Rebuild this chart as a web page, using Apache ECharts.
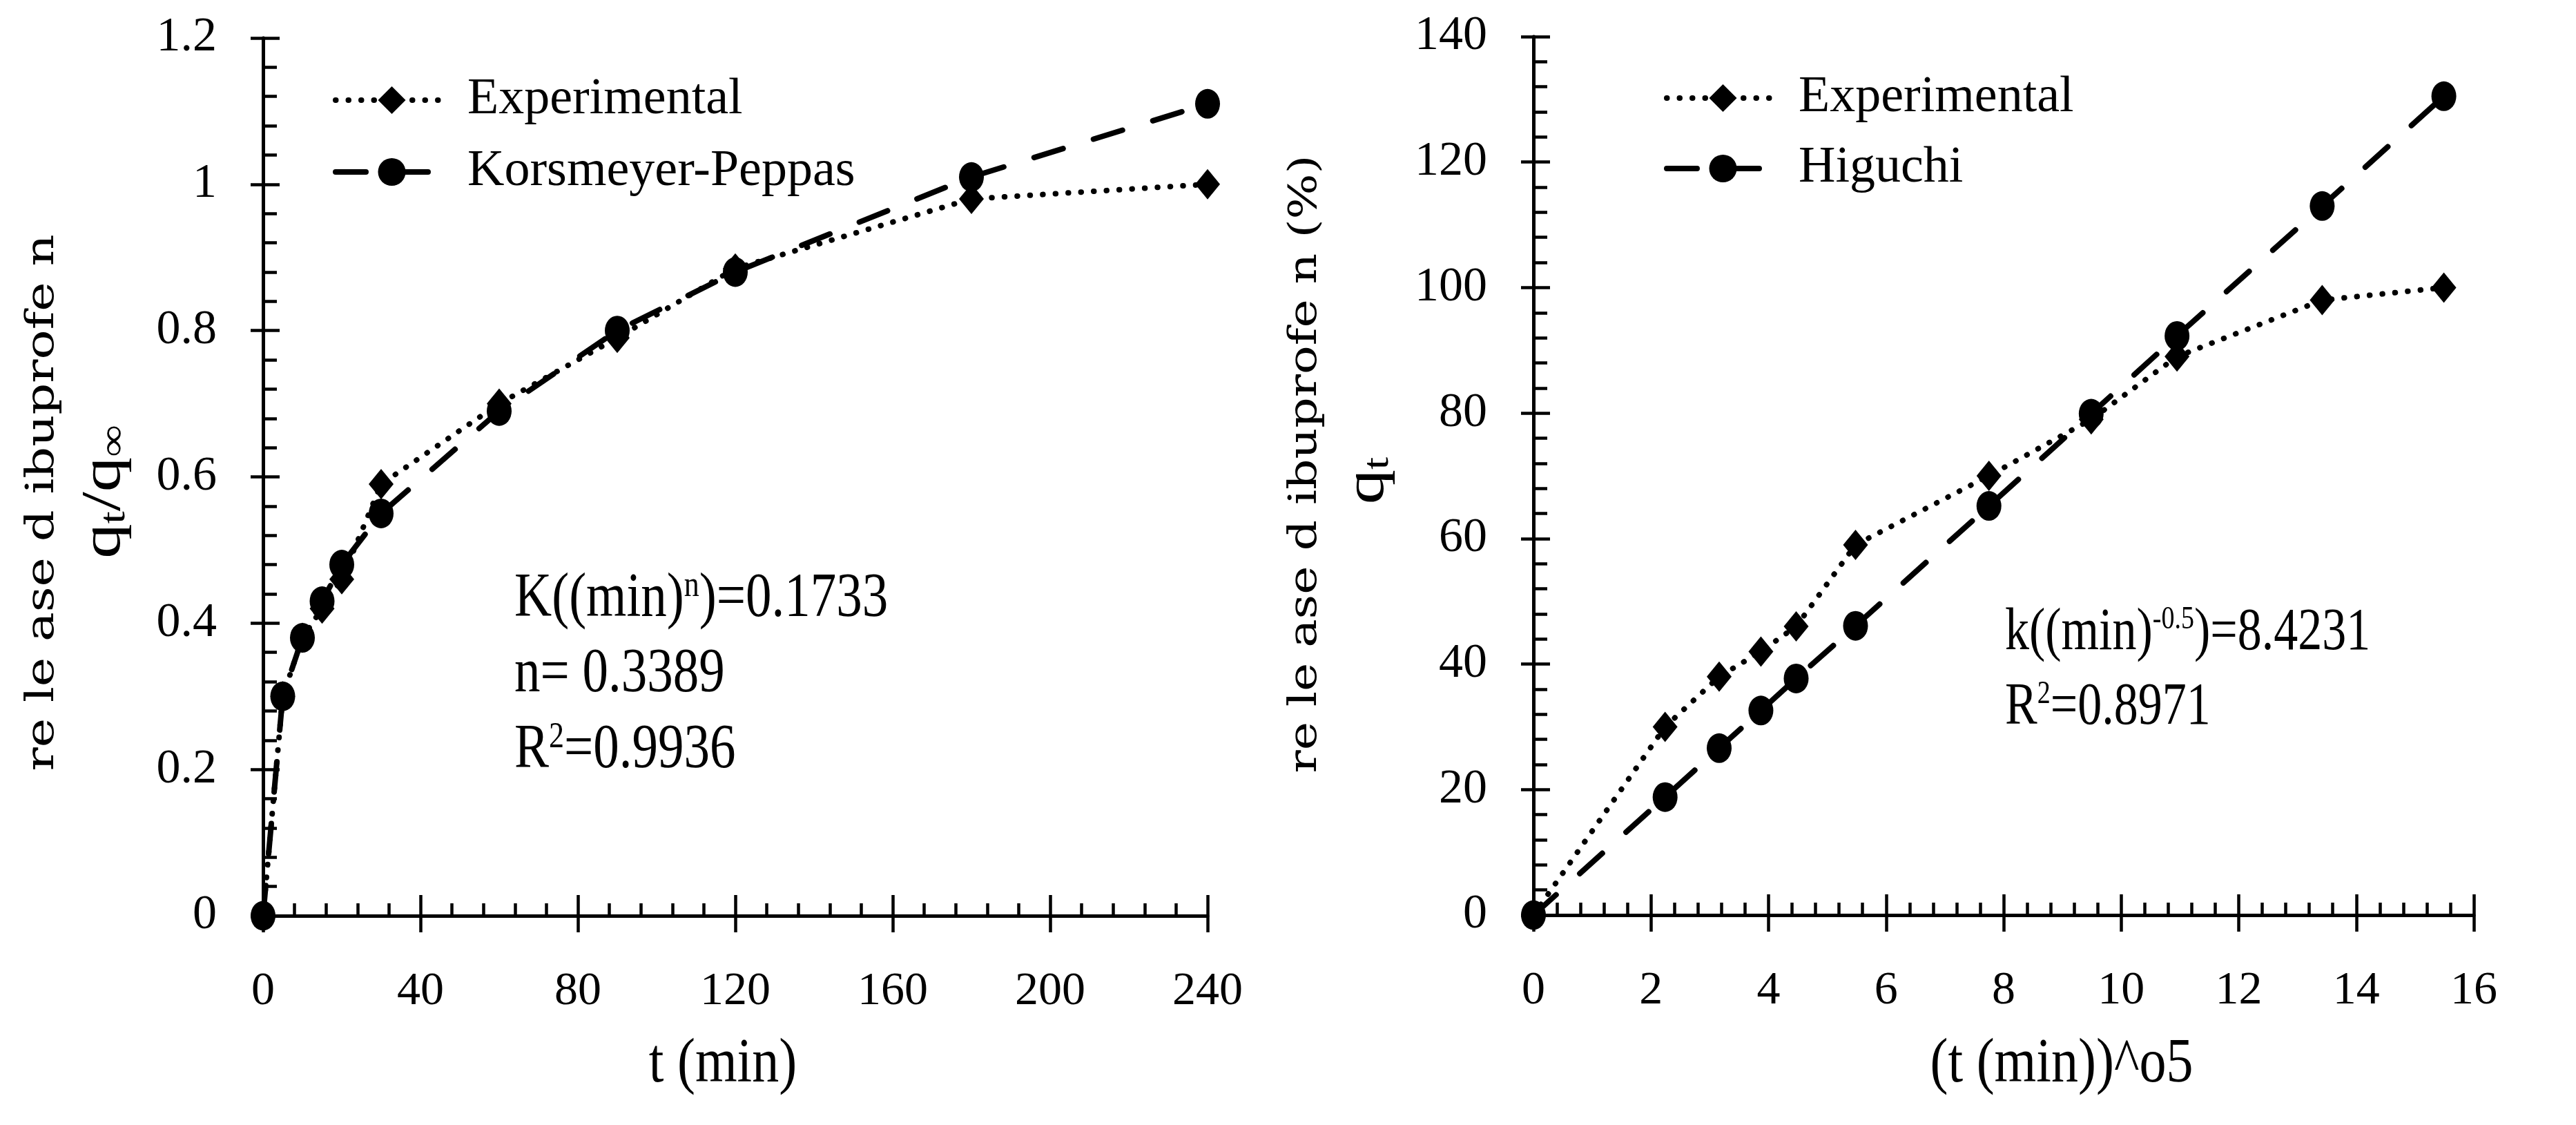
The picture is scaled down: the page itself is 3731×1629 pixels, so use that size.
<!DOCTYPE html>
<html><head><meta charset="utf-8">
<script src="https://cdn.jsdelivr.net/npm/echarts@6/dist/echarts.min.js"></script>
<style>html,body{margin:0;padding:0;background:#fff}#c{width:3731px;height:1629px}</style>
</head><body><div id="c"></div>
<script>
// ---- data ----
const timeMin = [0, 5, 10, 15, 20, 30, 60, 90, 120, 180, 240];
const expFraction = [0, 0.30, 0.38, 0.42, 0.46, 0.59, 0.70, 0.79, 0.885, 0.98, 1.0];
const kpFraction = [0, 0.30, 0.38, 0.43, 0.48, 0.55, 0.69, 0.80, 0.88, 1.01, 1.11];
const sqrtTime = [0, 2.24, 3.16, 3.87, 4.47, 5.48, 7.75, 9.49, 10.95, 13.42, 15.49];
const expPercent = [0, 30, 38, 42, 46, 59, 70, 79, 89, 98, 100];
const higuchiPercent = [0, 18.8, 26.6, 32.6, 37.7, 46.1, 65.2, 79.9, 92.3, 113, 130.5];
const leftLegend = ['Experimental', 'Korsmeyer-Peppas'];
const rightLegend = ['Experimental', 'Higuchi'];

const SERIF = '"Liberation Serif", "Times New Roman", serif';
const WIDE = '"DejaVu Serif", serif';
const BLACK = '#000';

function pairs(xs, ys) { return xs.map((x, i) => [x, ys[i]]); }

function mainAxis(gridIndex, min, max, interval, pos, tickLen, margin, fontSize) {
  return {
    type: 'value', gridIndex, min, max, interval, position: pos, offset: 0,
    axisLine: { show: true, onZero: false, lineStyle: { color: BLACK, width: 5 } },
    axisTick: { show: true, inside: false, length: tickLen, lineStyle: { color: BLACK, width: 4.5 } },
    minorTick: { show: false },
    axisLabel: { show: true, margin, color: BLACK, fontFamily: SERIF, fontSize },
    splitLine: { show: false }, minorSplitLine: { show: false }
  };
}
function innerAxis(gridIndex, min, max, interval, pos, tickLen, minorLen, split) {
  return {
    type: 'value', gridIndex, min, max, interval, position: pos, offset: 0,
    axisLine: { show: false, onZero: false },
    axisTick: { show: true, inside: true, length: tickLen, lineStyle: { color: BLACK, width: 4.5 } },
    minorTick: { show: true, splitNumber: split, length: minorLen, lineStyle: { color: BLACK, width: 4.5 } },
    axisLabel: { show: false }, splitLine: { show: false }, minorSplitLine: { show: false }
  };
}

const expLine = { color: BLACK, width: 8, type: [0.5, 18], cap: 'round' };
const modelLine = { color: BLACK, width: 8, type: [44, 46], cap: 'round' };

// stretched text: a group carries position, rotation and scale; the text sits at its origin
function stext(x, y, text, rich, align, t) {
  t = t || {};
  return {
    type: 'group', x, y, rotation: t.rotation || 0,
    scaleX: t.sx || 1, scaleY: t.sy || 1, silent: true,
    children: [{
      type: 'text', x: 0, y: 0, silent: true,
      style: { text, rich, fill: BLACK, x: 0, y: 0, align, verticalAlign: 'middle', textAlign: align, textVerticalAlign: 'middle' }
    }]
  };
}
function annRich(size, sup) {
  return {
    m: { fontFamily: SERIF, fontSize: size, lineHeight: size, color: BLACK },
    p: { fontFamily: SERIF, fontSize: sup, lineHeight: sup, verticalAlign: 'top', color: BLACK }
  };
}
const annLeft = annRich(75, 44);
const annRight = annRich(70, 38);
const nameRich1 = { a: { fontFamily: WIDE, fontSize: 56, lineHeight: 60, color: BLACK } };
const nameRich2 = {
  b: { fontFamily: SERIF, fontSize: 80, lineHeight: 80, color: BLACK },
  s: { fontFamily: SERIF, fontSize: 52, lineHeight: 48, verticalAlign: 'bottom', color: BLACK }
};
const xNameRich = { a: { fontFamily: SERIF, fontSize: 78, lineHeight: 78, color: BLACK } };

const legendText = { fontFamily: SERIF, fontSize: 74, color: BLACK, lineHeight: 50, padding: [0, 0, 0, 23] };
function legendItems(names) {
  return names.map((n, i) => ({ name: n, lineStyle: i === 0 ? expLine : modelLine }));
}

const option = {
  animation: false,
  backgroundColor: '#fff',
  grid: [
    { left: 381, top: 55, width: 1368, height: 1271 },
    { left: 2221, top: 53, width: 1362, height: 1272 }
  ],
  xAxis: [
    mainAxis(0, 0, 240, 40, 'bottom', 24, 76, 68),
    innerAxis(0, 0, 240, 40, 'bottom', 30, 18, 5),
    mainAxis(1, 0, 16, 2, 'bottom', 24, 76, 68),
    innerAxis(1, 0, 16, 2, 'bottom', 30, 18, 5)
  ],
  yAxis: [
    mainAxis(0, 0, 1.2, 0.2, 'left', 18, 67, 70),
    innerAxis(0, 0, 1.2, 0.2, 'left', 24, 20, 5),
    mainAxis(1, 0, 140, 20, 'left', 18, 67, 70),
    innerAxis(1, 0, 140, 20, 'left', 24, 20, 5)
  ],
  legend: [
    {
      data: legendItems(leftLegend), orient: 'vertical', left: 477, top: 103, itemWidth: 163, itemHeight: 50, itemGap: 30,
      selectedMode: false, textStyle: legendText
    },
    {
      data: legendItems(rightLegend), orient: 'vertical', left: 2405, top: 100, itemWidth: 163, itemHeight: 50, itemGap: 28,
      selectedMode: false, textStyle: legendText
    }
  ],
  series: [
    { type: 'line', name: 'Experimental', xAxisIndex: 0, yAxisIndex: 0, data: pairs(timeMin, expFraction),
      symbol: 'diamond', symbolSize: [36, 44], itemStyle: { color: BLACK }, lineStyle: expLine, clip: false, z: 3 },
    { type: 'line', name: 'Korsmeyer-Peppas', xAxisIndex: 0, yAxisIndex: 0, data: pairs(timeMin, kpFraction),
      symbol: 'circle', symbolSize: [36, 43], itemStyle: { color: BLACK }, lineStyle: modelLine, clip: false, z: 4 },
    { type: 'line', name: 'Experimental', xAxisIndex: 2, yAxisIndex: 2, data: pairs(sqrtTime, expPercent),
      symbol: 'diamond', symbolSize: [36, 44], itemStyle: { color: BLACK }, lineStyle: expLine, clip: false, z: 3 },
    { type: 'line', name: 'Higuchi', xAxisIndex: 2, yAxisIndex: 2, data: pairs(sqrtTime, higuchiPercent),
      symbol: 'circle', symbolSize: [36, 43], itemStyle: { color: BLACK }, lineStyle: modelLine, clip: false, z: 4 }
  ],
  graphic: { elements: [
    // y axis names (rotated, stretched along the text)
    stext(62, 728, '{a|re le ase d ibuprofe n}', nameRich1, 'center', { rotation: Math.PI / 2, sx: 1.28 }),
    stext(152, 712, '{b|q}{s|t}{b|/q}{s|∞}', nameRich2, 'center', { rotation: Math.PI / 2, sx: 1.26 }),
    stext(1891, 672, '{a|re le ase d ibuprofe n (%)}', nameRich1, 'center', { rotation: Math.PI / 2, sx: 1.24 }),
    stext(1982, 696, '{b|q}{s|t}', nameRich2, 'center', { rotation: Math.PI / 2, sx: 1.26 }),
    // x axis names
    stext(1047, 1542, '{a|t (min)}', xNameRich, 'center', { sy: 1.18 }),
    stext(2986, 1542, '{a|(t (min))^o5}', xNameRich, 'center', { sy: 1.18 }),
    // annotations left
    stext(745, 868, '{m|K((min)}{p|n}{m|)=0.1733}', annLeft, 'left', { sy: 1.2 }),
    stext(745, 977, '{m|n= 0.3389}', annLeft, 'left', { sy: 1.2 }),
    stext(745, 1087, '{m|R}{p|2}{m|=0.9936}', annLeft, 'left', { sy: 1.2 }),
    // annotations right
    stext(2904, 917, '{m|k((min)}{p|-0.5}{m|)=8.4231}', annRight, 'left', { sy: 1.23 }),
    stext(2904, 1025, '{m|R}{p|2}{m|=0.8971}', annRight, 'left', { sy: 1.23 })
  ] }
};

const chart = echarts.init(document.getElementById('c'), null, { renderer: 'canvas', width: 3731, height: 1629 });
chart.setOption(option);
</script>
</body></html>
